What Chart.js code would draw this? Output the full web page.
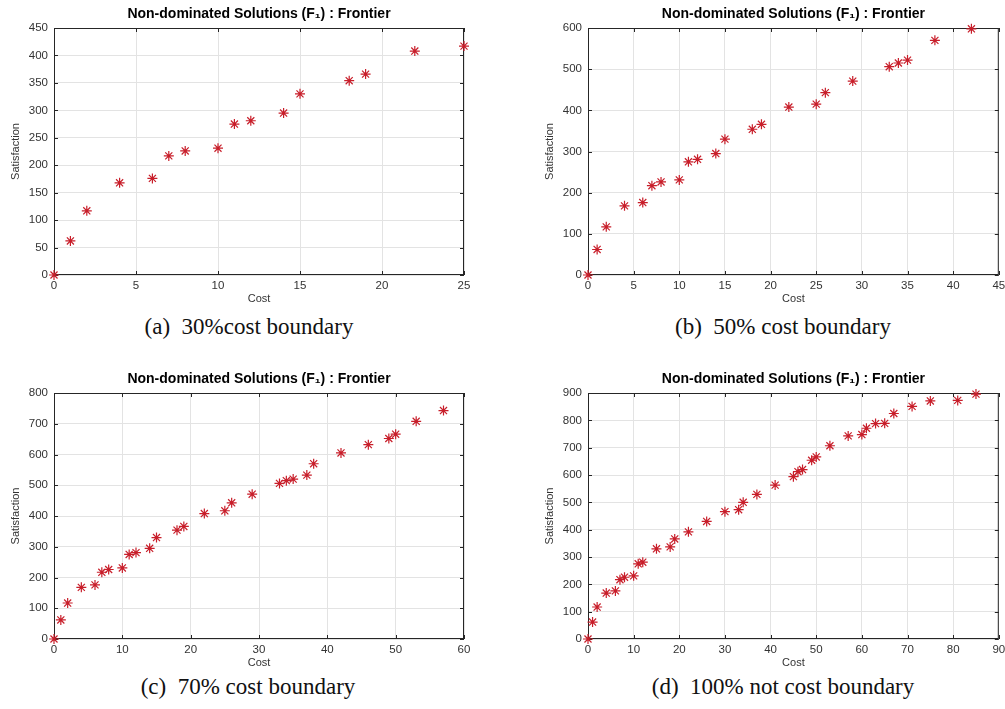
<!DOCTYPE html>
<html>
<head>
<meta charset="utf-8">
<script src="https://cdn.jsdelivr.net/npm/chart.js@4/dist/chart.umd.min.js"></script>
<style>
    body { margin: 0; background: #fff; width: 1005px; height: 709px; position: relative; overflow: hidden; }
    canvas { position: absolute; }
    .caption {
        position: absolute; width: 400px; text-align: center;
        font-family: "Liberation Serif", "Times New Roman", serif; font-size: 23px; color: #111;
    }
</style>
</head>
<body>
<canvas id="panelA" width="500" height="310" style="left:0;top:0"></canvas>
<canvas id="panelB" width="505" height="310" style="left:500px;top:0"></canvas>
<canvas id="panelC" width="500" height="310" style="left:0;top:364px"></canvas>
<canvas id="panelD" width="505" height="310" style="left:500px;top:364px"></canvas>
<div class="caption" style="left:49px;top:314px">(a)&nbsp; 30%cost boundary</div>
<div class="caption" style="left:583px;top:314px">(b)&nbsp; 50% cost boundary</div>
<div class="caption" style="left:48px;top:674px">(c)&nbsp; 70% cost boundary</div>
<div class="caption" style="left:583px;top:674px">(d)&nbsp; 100% not cost boundary</div>
<script>
// Data
const costA = [0, 1, 2, 4, 6, 7, 8, 10, 11, 12, 14, 15, 18, 19, 22, 25];
const satA  = [0, 62, 117, 168, 176, 217, 226, 231, 275, 281, 295, 330, 354, 366, 408, 417];

const costB = [0, 1, 2, 4, 6, 7, 8, 10, 11, 12, 14, 15, 18, 19, 22, 25, 26, 29, 33, 34, 35, 38, 42];
const satB  = [0, 62, 117, 168, 176, 217, 226, 231, 275, 281, 295, 330, 354, 366, 408, 415, 443, 471, 506, 515, 522, 570, 598];

const costC = [0, 1, 2, 4, 6, 7, 8, 10, 11, 12, 14, 15, 18, 19, 22, 25, 26, 29, 33, 34, 35, 37, 38, 42, 46, 49, 50, 53, 57];
const satC  = [0, 62, 117, 168, 176, 217, 226, 231, 275, 281, 295, 330, 354, 366, 408, 417, 443, 471, 506, 515, 520, 533, 570, 605, 632, 652, 666, 708, 743];

const costD = [0, 1, 2, 4, 6, 7, 8, 10, 11, 12, 15, 18, 19, 22, 26, 30, 33, 34, 37, 41, 45, 46, 47, 49, 50, 53, 57, 60, 61, 63, 65, 67, 71, 75, 81, 85];
const satD  = [0, 62, 117, 168, 176, 217, 226, 231, 275, 281, 330, 337, 366, 392, 430, 466, 473, 500, 529, 563, 594, 612, 620, 654, 666, 707, 743, 748, 771, 788, 789, 825, 851, 871, 873, 896];

const chartTitle = 'Non-dominated Solutions (F\u2081) : Frontier';
const xLabel = 'Cost';
const yLabel = 'Satisfaction';

const axisColor = '#262626';
const gridColor = '#e3e3e3';
const markColor = '#c81e2a';
const fontFamily = 'Liberation Sans, Arial, sans-serif';

// box around the axes with inward ticks, like matlab
const boxPlugin = {
    id: 'matlabBox',
    beforeDatasetsDraw(chart) {
        const ctx = chart.ctx;
        const a = chart.chartArea;
        const xs = chart.scales.x, ys = chart.scales.y;
        const len = 4;
        ctx.save();
        ctx.strokeStyle = axisColor;
        ctx.lineWidth = 1;
        ctx.strokeRect(a.left + 0.5, a.top + 0.5, a.right - a.left - 1, a.bottom - a.top - 1);
        ctx.beginPath();
        xs.ticks.forEach(t => {
            const px = Math.round(xs.getPixelForValue(t.value)) + 0.5;
            ctx.moveTo(px, a.bottom); ctx.lineTo(px, a.bottom - len);
            ctx.moveTo(px, a.top); ctx.lineTo(px, a.top + len);
        });
        ys.ticks.forEach(t => {
            const py = Math.round(ys.getPixelForValue(t.value)) + 0.5;
            ctx.moveTo(a.left, py); ctx.lineTo(a.left + len, py);
            ctx.moveTo(a.right, py); ctx.lineTo(a.right - len, py);
        });
        ctx.stroke();
        ctx.restore();
    },
    // title centred over the plot box, not the whole canvas
    afterDraw(chart) {
        const ctx = chart.ctx;
        const a = chart.chartArea;
        ctx.save();
        ctx.fillStyle = '#000';
        ctx.font = 'bold 14px ' + fontFamily;
        ctx.textAlign = 'center';
        ctx.textBaseline = 'middle';
        ctx.fillText(chartTitle, (a.left + a.right) / 2, a.top - 14);
        ctx.restore();
    }
};

function makePanel(id, cost, sat, xMax, xStep, yMax, yStep, yAxisWidth, yTitlePad, topPad, rightPad) {
    const points = cost.map((c, i) => ({ x: c, y: sat[i] }));
    new Chart(document.getElementById(id), {
        type: 'scatter',
        data: {
            datasets: [{
                data: points,
                pointStyle: 'star',
                radius: 5,
                hoverRadius: 5,
                borderColor: markColor,
                backgroundColor: markColor,
                borderWidth: 1.2,
                clip: false
            }]
        },
        options: {
            responsive: false,
            animation: false,
            layout: { padding: { top: topPad, right: rightPad, bottom: 0, left: 0 } },
            plugins: {
                legend: { display: false },
                tooltip: { enabled: false },
                title: { display: false }
            },
            scales: {
                x: {
                    type: 'linear',
                    min: 0,
                    max: xMax,
                    afterFit(scale) {
                        scale.height = 35;
                        scale.paddingRight = 0;   // let the last label run off the edge
                    },
                    ticks: {
                        stepSize: xStep,
                        color: '#333',
                        padding: 4,
                        font: { family: fontFamily, size: 11.5 }
                    },
                    grid: { color: gridColor, drawTicks: false },
                    border: { display: false },
                    title: {
                        display: true,
                        text: xLabel,
                        color: '#333',
                        padding: { top: 0, bottom: 4 },
                        font: { family: fontFamily, size: 11 }
                    }
                },
                y: {
                    type: 'linear',
                    min: 0,
                    max: yMax,
                    afterFit(scale) { scale.width = yAxisWidth; },
                    ticks: {
                        stepSize: yStep,
                        color: '#333',
                        padding: 6,
                        font: { family: fontFamily, size: 11.5 }
                    },
                    grid: { color: gridColor, drawTicks: false },
                    border: { display: false },
                    title: {
                        display: true,
                        text: yLabel,
                        color: '#333',
                        padding: { top: yTitlePad, bottom: 0 },
                        font: { family: fontFamily, size: 11 }
                    }
                }
            }
        },
        plugins: [boxPlugin]
    });
}

makePanel('panelA', costA, satA, 25, 5, 450, 50, 54, 9, 28, 36);
makePanel('panelB', costB, satB, 45, 5, 600, 100, 88, 43, 28, 6);
makePanel('panelC', costC, satC, 60, 10, 800, 100, 54, 9, 29, 36);
makePanel('panelD', costD, satD, 90, 10, 900, 100, 88, 43, 29, 6);
</script>
</body>
</html>
